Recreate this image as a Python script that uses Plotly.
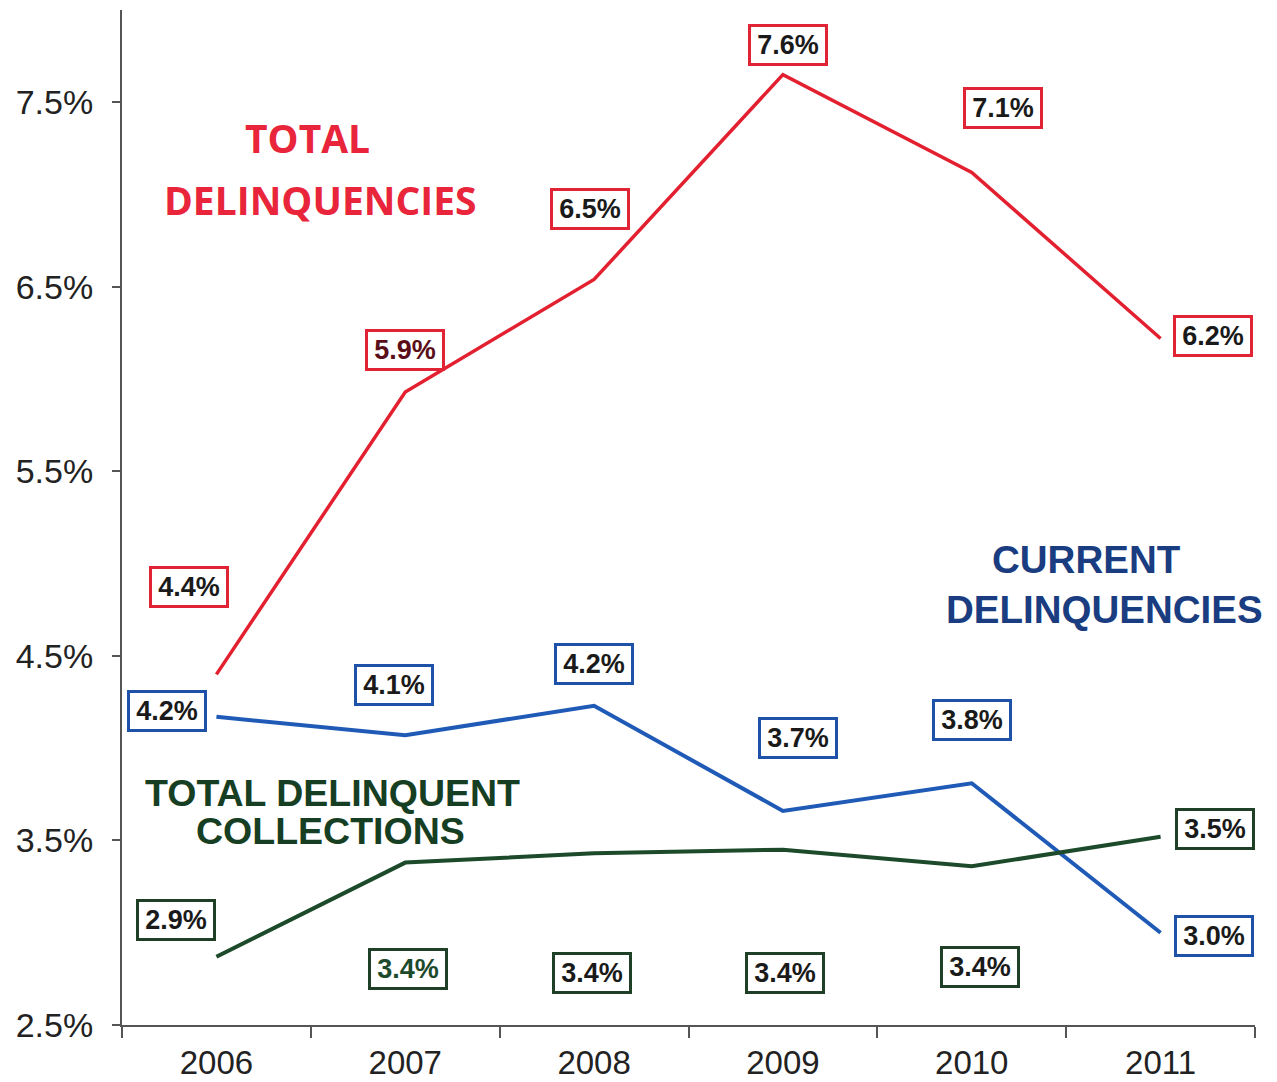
import plotly.graph_objects as go

years = ["2006", "2007", "2008", "2009", "2010", "2011"]
total_delinq = [4.4, 5.93, 6.54, 7.65, 7.12, 6.22]
current_delinq = [4.17, 4.07, 4.23, 3.66, 3.81, 3.0]
collections = [2.87, 3.38, 3.43, 3.45, 3.36, 3.52]

total_labels = ["4.4%", "5.9%", "6.5%", "7.6%", "7.1%", "6.2%"]
current_labels = ["4.2%", "4.1%", "4.2%", "3.7%", "3.8%", "3.0%"]
collect_labels = ["2.9%", "3.4%", "3.4%", "3.4%", "3.4%", "3.5%"]

ytick_vals = [2.5, 3.5, 4.5, 5.5, 6.5, 7.5]
ytick_text = ["2.5%", "3.5%", "4.5%", "5.5%", "6.5%", "7.5%"]

# label offsets (pixels) from their points
total_off = [(-27, 87), (0, 42), (-4, 70), (5, 30), (31, 64), (52, 2)]
current_off = [(-49, 6), (-11, 50), (0, 42), (15, 73), (0, 63), (53, -3)]
collect_off = [(-40, 37), (3, -106), (-2, -120), (2, -123), (8, -101), (54, 8)]

RED = "#E3202F"
BLUE = "#1F5BB6"
GREEN = "#1C4A2A"

fig = go.Figure()
fig.add_trace(go.Scatter(x=years, y=total_delinq, mode="lines",
                         line=dict(color=RED, width=3.5), hoverinfo="skip"))
fig.add_trace(go.Scatter(x=years, y=current_delinq, mode="lines",
                         line=dict(color=BLUE, width=4), hoverinfo="skip"))
fig.add_trace(go.Scatter(x=years, y=collections, mode="lines",
                         line=dict(color=GREEN, width=4), hoverinfo="skip"))

annotations = []


def add_labels(values, labels, offsets, border, textcolors):
    for i, (v, lab, (dx, dy), tc) in enumerate(zip(values, labels, offsets, textcolors)):
        annotations.append(dict(
            x=i, y=v, xref="x", yref="y", text=lab, showarrow=False,
            xshift=dx, yshift=dy,
            font=dict(family="Arial, Liberation Sans", size=27, color=tc, weight="bold"),
            bgcolor="white", bordercolor=border, borderwidth=3, borderpad=3,
            width=68, height=30, align="center", valign="middle"))


add_labels(total_delinq, total_labels, total_off, "#E02435",
           ["#1a1a1a", "#5A0E18", "#1a1a1a", "#1a1a1a", "#1a1a1a", "#1a1a1a"])
add_labels(current_delinq, current_labels, current_off, "#1E52A8",
           ["#1a1a1a"] * 6)
add_labels(collections, collect_labels, collect_off, "#1F3F27",
           ["#1a1a1a", "#1C4A2A", "#1a1a1a", "#1a1a1a", "#1a1a1a", "#1a1a1a"])


def title(text, x, y, color, family, size):
    annotations.append(dict(x=x, y=y, xref="paper", yref="paper", text=text,
                            showarrow=False, xanchor="center", yanchor="middle",
                            font=dict(family=family, size=size, color=color, weight="bold")))


title("TOTAL", 0.164, 0.874, "#E8253A", "Open Sans", 39)
title("DELINQUENCIES", 0.1756, 0.813, "#E8253A", "Open Sans", 39)
title("CURRENT", 0.8517, 0.459, "#1A3C80", "Arial, Liberation Sans", 38.5)
title("DELINQUENCIES", 0.8676, 0.409, "#1A3C80", "Arial, Liberation Sans", 38.5)
title("TOTAL DELINQUENT", 0.1855, 0.229, "#163E22", "Arial, Liberation Sans", 37.5)
title("COLLECTIONS", 0.1836, 0.191, "#163E22", "Arial, Liberation Sans", 37.5)

# page body has an 8px default margin, so the figure is sized to fit the window
fig.update_layout(
    width=1269, height=1074,
    margin=dict(l=114, r=22, t=2, b=57, autoexpand=False),
    paper_bgcolor="white", plot_bgcolor="white",
    showlegend=False,
    annotations=annotations,
    xaxis=dict(type="category", range=[-0.5, 5.5], showgrid=False, zeroline=False,
               automargin=False,
               showline=True, linecolor="#555555", linewidth=2,
               ticks="outside", ticklen=11, tickcolor="#555555", tickwidth=2,
               tickson="boundaries", ticklabelstandoff=7,
               tickfont=dict(family="Arial, Liberation Sans", size=33, color="#222222")),
    yaxis=dict(range=[2.5, 8.0], showgrid=False, zeroline=False,
               automargin=False,
               showline=True, linecolor="#555555", linewidth=2,
               tickvals=ytick_vals, ticktext=ytick_text,
               ticks="outside", ticklen=8, tickcolor="#555555", tickwidth=2,
               ticklabelstandoff=12,
               tickfont=dict(family="Arial, Liberation Sans", size=34, color="#222222")),
)

fig.write_html("out.html")
